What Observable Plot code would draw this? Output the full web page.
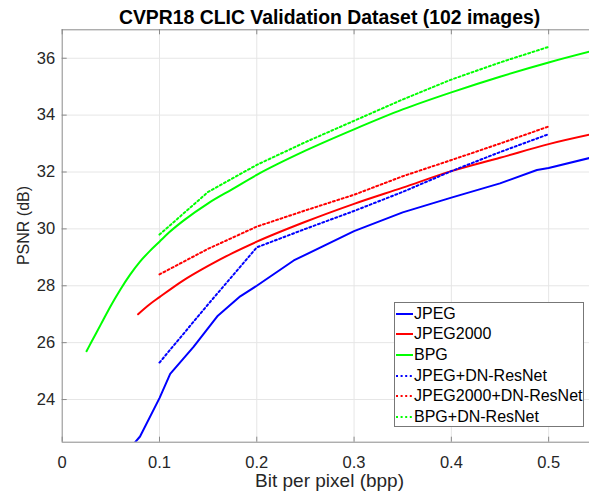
<!DOCTYPE html>
<html><head><meta charset="utf-8">
<script src="https://cdn.jsdelivr.net/npm/d3@7"></script>
<script src="https://cdn.jsdelivr.net/npm/@observablehq/plot@0.6"></script>
<style>
body{margin:0;background:#fff;}
#wrap{position:relative;width:589px;height:500px;overflow:hidden;font-family:"Liberation Sans",Arial,sans-serif;}
#wrap svg{display:block;}
#legend{position:absolute;left:394px;top:302px;width:190px;height:125px;border:1px solid #777;background:#fff;box-sizing:border-box;}
.row{position:absolute;left:0;height:20px;display:flex;align-items:center;font-size:16px;color:#000;white-space:nowrap;}
.row svg{margin-left:1px;margin-right:1px;}
</style></head>
<body><div id="wrap"><div id="legend"></div></div>
<script>
const title = "CVPR18 CLIC Validation Dataset (102 images)";
const xLabel = "Bit per pixel (bpp)";
const yLabel = "PSNR (dB)";
const xTicks = [0, 0.1, 0.2, 0.3, 0.4, 0.5];
const yTicks = [24, 26, 28, 30, 32, 34, 36];

const jpegX = [0.075,0.08,0.1,0.111,0.135,0.16,0.183,0.2,0.238,0.3,0.35,0.4,0.45,0.488,0.5,0.55];
const jpegY = [22.5,22.7,24.05,24.9,25.85,26.95,27.63,28.0,28.89,29.92,30.58,31.1,31.6,32.07,32.14,32.56];
const j2kX = [0.078,0.09,0.1,0.125,0.15,0.175,0.2,0.25,0.3,0.35,0.4,0.45,0.5,0.55];
const j2kY = [27.0,27.35,27.6,28.2,28.7,29.15,29.55,30.25,30.88,31.45,32.03,32.5,32.98,33.37];
const bpgX = [0.025,0.03,0.04,0.05,0.06,0.07,0.08,0.09,0.1,0.11,0.125,0.15,0.175,0.2,0.25,0.3,0.35,0.4,0.45,0.5,0.55];
const bpgY = [25.7,26.02,26.66,27.3,27.88,28.4,28.85,29.22,29.55,29.88,30.3,30.9,31.4,31.9,32.75,33.5,34.2,34.8,35.35,35.85,36.3];
const dnX = [0.1,0.15,0.2,0.25,0.3,0.35,0.4,0.45,0.5];
const jpegDnY = [25.3,27.35,29.35,30.0,30.63,31.3,32.03,32.7,33.33];
const j2kDnY = [28.4,29.3,30.08,30.65,31.2,31.85,32.42,33.0,33.6];
const bpgDnY = [29.8,31.3,32.25,33.05,33.8,34.55,35.25,35.85,36.4];

const seriesNames = ["JPEG","JPEG2000","BPG","JPEG+DN-ResNet","JPEG2000+DN-ResNet","BPG+DN-ResNet"];
const seriesColors = ["#0000ff","#ff0000","#00ff00","#0000ff","#ff0000","#00ff00"];
const seriesDotted = [false,false,false,true,true,true];
const seriesCurves = ["linear","monotone-x","monotone-x","linear","linear","linear"];
const seriesXs = [jpegX, j2kX, bpgX, dnX, dnX, dnX];
const seriesYs = [jpegY, j2kY, bpgY, jpegDnY, j2kDnY, bpgDnY];

const W = 589, H = 500;
const mL = 61.7, mR = 0, mT = 29.3, mB = 58.3;
const xDomain = [0, 0.542], yDomain = [22.5, 37];
const xPerPx = (xDomain[1]-xDomain[0])/(W-mL-mR);
const yPerPx = (yDomain[1]-yDomain[0])/(H-mT-mB);
const tickLen = 5;
const axisColor = "#8a8a8a";
const gridColor = "#e6e6e6";
const font = "Liberation Sans, Arial, sans-serif";

const lineMarks = seriesNames.map((name, k) => Plot.line(
  seriesXs[k].map((x, i) => ({x, y: seriesYs[k][i]})),
  {x: "x", y: "y", stroke: seriesColors[k], strokeWidth: 2,
   curve: seriesCurves[k],
   strokeDasharray: seriesDotted[k] ? "2,2.6" : null, clip: true}
));

const chart = Plot.plot({
  width: W, height: H,
  marginLeft: mL, marginRight: mR, marginTop: mT, marginBottom: mB,
  style: {fontFamily: font, background: "white", overflow: "visible"},
  x: {domain: xDomain},
  y: {domain: yDomain},
  marks: [
    Plot.ruleX(xTicks.slice(1), {stroke: gridColor, strokeWidth: 1}),
    Plot.ruleY(yTicks, {stroke: gridColor, strokeWidth: 1}),
    ...lineMarks,
    Plot.ruleY([yDomain[0]], {stroke: axisColor}),
    Plot.ruleY([yDomain[1]], {stroke: axisColor}),
    Plot.ruleX([xDomain[0]], {stroke: axisColor}),
    Plot.ruleX(xTicks, {x: d => d, y1: yDomain[0], y2: yDomain[0] + tickLen*yPerPx, stroke: axisColor}),
    Plot.ruleX(xTicks, {x: d => d, y1: yDomain[1], y2: yDomain[1] - tickLen*yPerPx, stroke: axisColor}),
    Plot.ruleY(yTicks, {y: d => d, x1: xDomain[0], x2: xDomain[0] + tickLen*xPerPx, stroke: axisColor}),
    Plot.axisX({ticks: xTicks, tickSize: 0, tickPadding: 14, fontSize: 16.5, fill: "#262626", label: null, tickFormat: d => String(d)}),
    Plot.axisY({ticks: yTicks, tickSize: 0, tickPadding: 7, fontSize: 16.5, fill: "#262626", label: null, tickFormat: d => String(d)}),
    Plot.text([title], {frameAnchor: "top", textAnchor: "middle", dx: 3.7, dy: -12.4, fontSize: 19.4, fontWeight: "bold", fill: "#000", lineAnchor: "middle"}),
    Plot.text([xLabel], {frameAnchor: "bottom", textAnchor: "middle", dx: 3.7, dy: 38.5, fontSize: 19, fill: "#262626", lineAnchor: "middle"}),
    Plot.text([yLabel], {frameAnchor: "left", textAnchor: "middle", dx: -38.5, dy: -10.5, rotate: -90, fontSize: 16, fill: "#262626", lineAnchor: "middle"})
  ]
});
document.getElementById("wrap").prepend(chart);

const legend = document.getElementById("legend");
seriesNames.forEach((name, k) => {
  const row = document.createElement("div");
  row.className = "row";
  row.style.top = (11.6 + 20.7*k - 10 - 1) + "px";
  const sw = d3.create("svg").attr("width", 17).attr("height", 20);
  sw.append("line").attr("x1", 0).attr("x2", 17).attr("y1", 10).attr("y2", 10)
    .attr("stroke", seriesColors[k]).attr("stroke-width", 2)
    .attr("stroke-dasharray", seriesDotted[k] ? "2,2.6" : null);
  row.appendChild(sw.node());
  const t = document.createElement("span");
  t.textContent = name;
  row.appendChild(t);
  legend.appendChild(row);
});
</script>
</body></html>
